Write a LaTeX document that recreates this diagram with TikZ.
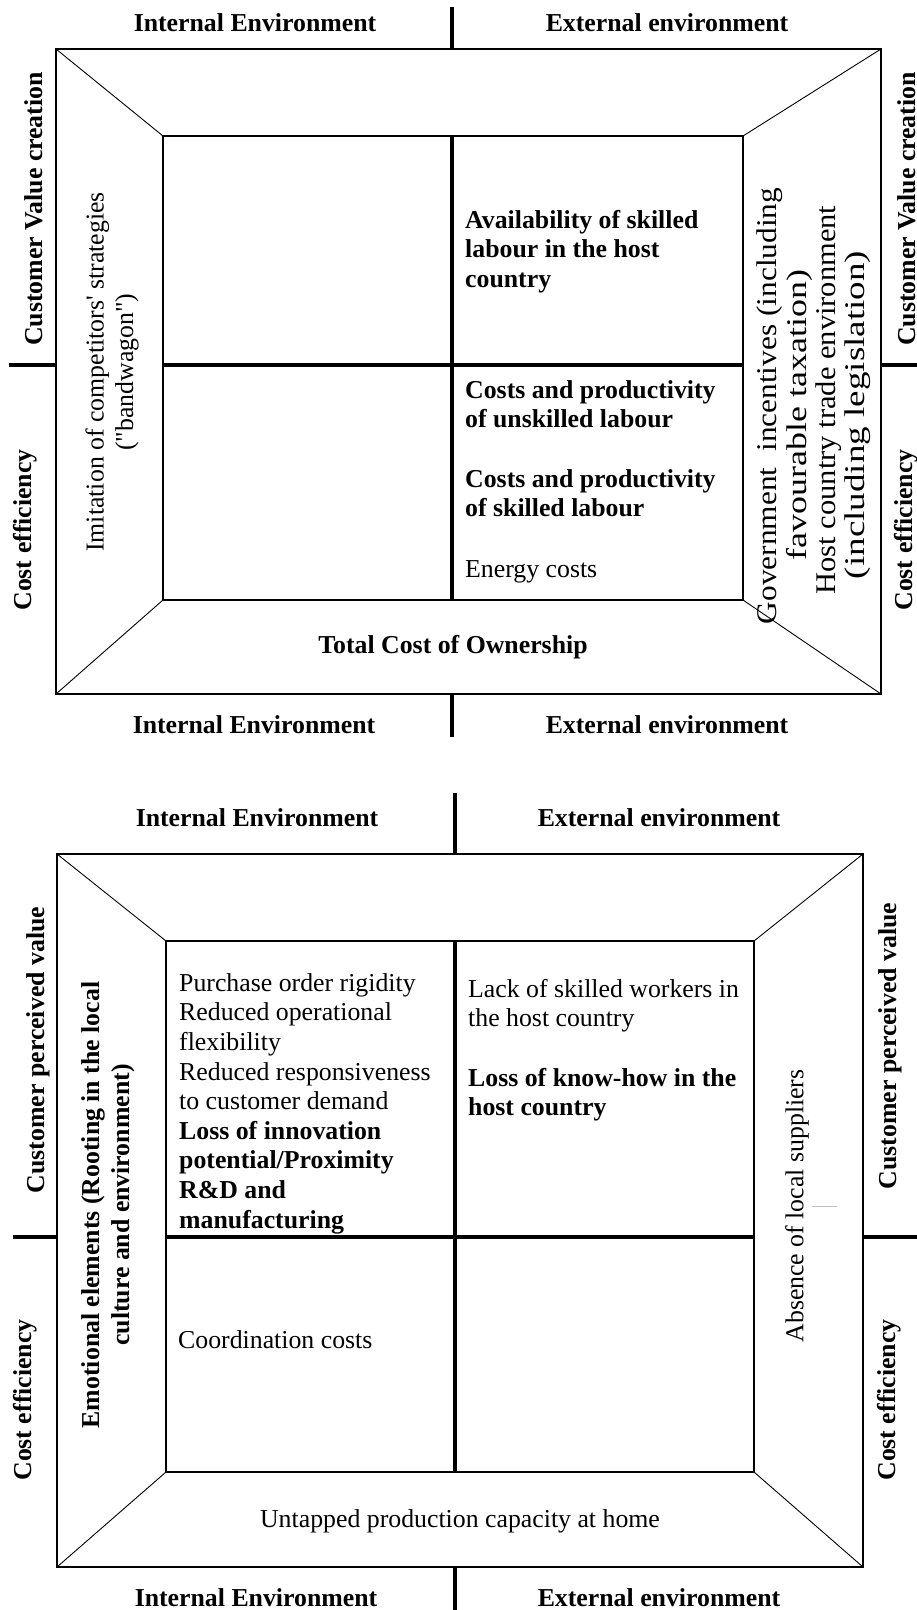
\documentclass[tikz,border=0pt]{standalone}
\usepackage{fontspec}
\setmainfont{Liberation Serif}
\newcommand\dfont{\fontsize{25.8pt}{29.6pt}\selectfont}
\newcommand\sidefont{\fontsize{28.5pt}{30pt}\selectfont}
\begin{document}
\begin{tikzpicture}[x=1pt,y=-1pt,
  frame/.style={line width=2.3pt},
  divider/.style={line width=3.5pt},
  bevel/.style={line width=0.9pt},
  lbl/.style={font=\dfont\bfseries, inner sep=0pt},
  txt/.style={font=\dfont, inner sep=0pt},
  vlbl/.style={lbl, rotate=90},
  vtxt/.style={txt, rotate=90},
  vside/.style={font=\sidefont, inner sep=0pt, rotate=90},
  cell/.style={txt, align=left, anchor=north west},
  bcell/.style={lbl, align=left, anchor=north west}]
\useasboundingbox (0,0) rectangle (917,1610);

% ---------- upper matrix: frame ----------
\coordinate (TO1) at (56,49);   \coordinate (TO2) at (881,49);
\coordinate (TO3) at (881,694); \coordinate (TO4) at (56,694);
\coordinate (TI1) at (163,136); \coordinate (TI2) at (743,136);
\coordinate (TI3) at (743,600); \coordinate (TI4) at (163,600);
\coordinate (TV1) at (452,7);   \coordinate (TV2) at (452,49);
\coordinate (TV3) at (452,136); \coordinate (TV4) at (452,600);
\coordinate (TV5) at (452,694); \coordinate (TV6) at (452,737);
\coordinate (TH1) at (9,365);   \coordinate (TH2) at (56,365);
\coordinate (TH3) at (163,365); \coordinate (TH4) at (743,365);
\coordinate (TH5) at (881,365); \coordinate (TH6) at (917,365);

\draw[frame] (TO1) rectangle (TO3);
\draw[frame] (TI1) rectangle (TI3);
\draw[bevel] (TO1) -- (TI1) (TO2) -- (TI2) (TO3) -- (TI3) (TO4) -- (TI4);
\draw[divider] (TV1) -- (TV2) (TV3) -- (TV4) (TV5) -- (TV6);
\draw[divider] (TH1) -- (TH2) (TH3) -- (TH4) (TH5) -- (TH6);

% ---------- upper matrix: axis labels ----------
\node[lbl, anchor=base] (tInt1) at (255,31) {Internal Environment};
\node[lbl, anchor=base] (tExt1) at (667,31) {External environment};
\node[lbl, anchor=base] (tInt2) at (254,733) {Internal Environment};
\node[lbl, anchor=base] (tExt2) at (667,733) {External environment};
\node[vlbl] (tCvcL) at (34,209) {Customer Value creation};
\node[vlbl] (tCeL)  at (25,530) {Cost efficiency};
\node[vlbl] (tCvcR) at (907,209) {Customer Value creation};
\node[vlbl] (tCeR)  at (906,530) {Cost efficiency};

% ---------- upper matrix: contents ----------
\node[vtxt, align=center] (tImit) at (112,372)
  {Imitation of competitors\textquotesingle{} strategies\\(\textquotedbl bandwagon\textquotedbl)};
% right band: justified side text, one node per line
\node[vside, xscale=1.10] (tGov1) at (770,406) {Government\ \ incentives (including};
\node[vside, xscale=1.26] (tGov2) at (799,415) {favourable taxation)};
\node[vside, xscale=1.07] (tGov3) at (829,400) {Host country trade environment};
\node[vside, xscale=1.30] (tGov4) at (858,415) {(including legislation)};
\node[lbl, anchor=base] (tTco) at (453,653) {Total Cost of Ownership};
\node[bcell] (tAvail) at (465,207.3)
  {\strut Availability of skilled\\labour in the host\\country};
\node[bcell] (tUnsk) at (465,377.3)
  {\strut Costs and productivity\\of unskilled labour};
\node[bcell] (tSkil) at (465,466.3)
  {\strut Costs and productivity\\of skilled labour};
\node[cell] (tEnergy) at (465,556.3) {\strut Energy costs};

% ---------- lower matrix: frame ----------
\coordinate (BO1) at (57,854);   \coordinate (BO2) at (863,854);
\coordinate (BO3) at (863,1567); \coordinate (BO4) at (57,1567);
\coordinate (BI1) at (166,941);  \coordinate (BI2) at (754,941);
\coordinate (BI3) at (754,1472); \coordinate (BI4) at (166,1472);
\coordinate (BV1) at (455,793);  \coordinate (BV2) at (455,854);
\coordinate (BV3) at (455,941);  \coordinate (BV4) at (455,1472);
\coordinate (BV5) at (455,1567); \coordinate (BV6) at (455,1610);
\coordinate (BH1) at (13,1237);  \coordinate (BH2) at (57,1237);
\coordinate (BH3) at (166,1237); \coordinate (BH4) at (754,1237);
\coordinate (BH5) at (863,1237); \coordinate (BH6) at (917,1237);

\draw[frame] (BO1) rectangle (BO3);
\draw[frame] (BI1) rectangle (BI3);
\draw[bevel] (BO1) -- (BI1) (BO2) -- (BI2) (BO3) -- (BI3) (BO4) -- (BI4);
\draw[divider] (BV1) -- (BV2) (BV3) -- (BV4) (BV5) -- (BV6);
\draw[divider] (BH1) -- (BH2) (BH3) -- (BH4) (BH5) -- (BH6);

% ---------- lower matrix: axis labels ----------
\node[lbl, anchor=base] (bInt1) at (257,826) {Internal Environment};
\node[lbl, anchor=base] (bExt1) at (659,826) {External environment};
\node[lbl, anchor=base] (bInt2) at (256,1606) {Internal Environment};
\node[lbl, anchor=base] (bExt2) at (659,1606) {External environment};
\node[vlbl] (bCpvL) at (38,1050) {Customer perceived value};
\node[vlbl] (bCeL)  at (25,1400) {Cost efficiency};
\node[vlbl] (bCpvR) at (890,1046) {Customer perceived value};
\node[vlbl] (bCeR)  at (889,1400) {Cost efficiency};

% ---------- lower matrix: contents ----------
\node[vlbl, align=center] (bEmo) at (108,1205)
  {Emotional elements (Rooting in the local\\culture and environment)};
\node[vtxt] (bAbs) at (797,1206) {Absence of local suppliers};
\coordinate (bMk1) at (812,1206); \coordinate (bMk2) at (837,1206);
\draw[black!25, line width=0.8pt] (bMk1) -- (bMk2);
\node[txt, anchor=base] (bUntap) at (460,1527) {Untapped production capacity at home};
\node[cell] (bPurch) at (179,970.3)
  {\strut Purchase order rigidity\\Reduced operational\\flexibility\\Reduced responsiveness\\to customer demand\\\textbf{Loss of innovation}\\\textbf{potential/Proximity}\\\textbf{R\&D and}\\\textbf{manufacturing}};
\node[cell] (bLack) at (468,976.3)
  {\strut Lack of skilled workers in\\the host country};
\node[bcell] (bKnow) at (468,1065.3)
  {\strut Loss of know-how in the\\host country};
\node[txt, anchor=base west] (bCoord) at (178,1348) {Coordination costs};
\end{tikzpicture}
\end{document}
